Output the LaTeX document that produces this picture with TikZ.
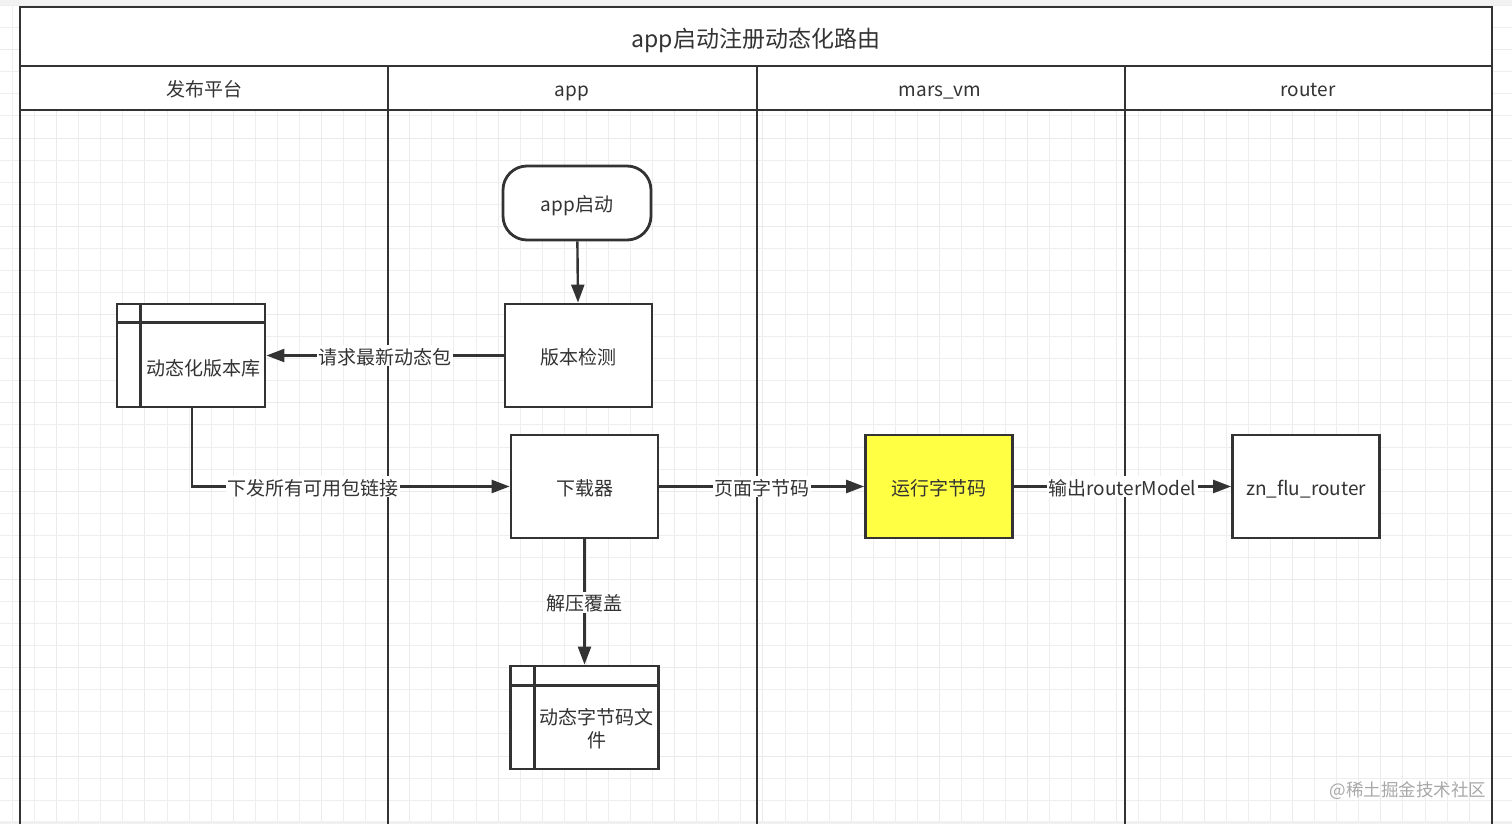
\documentclass[tikz,border=0pt]{standalone}
\usepackage{fontspec}
\setmainfont{Noto Sans CJK SC}
\usetikzlibrary{arrows.meta}
\definecolor{ln}{HTML}{333333}
\definecolor{txt}{HTML}{333333}
\definecolor{gminor}{HTML}{EEEEEE}
\definecolor{gmajor}{HTML}{EAEAEA}
\definecolor{topgray}{HTML}{F2F2F2}
\definecolor{hl}{HTML}{FFFF44}
\definecolor{wm}{HTML}{A8A8A8}
\begin{document}
\begin{tikzpicture}[x=1pt,y=-1pt,
  fnt/.style={font=\fontsize{19}{24}\selectfont, text=txt, text height=17.5pt, text depth=0.5pt},
  boxnode/.style={draw=ln, line width=2.8pt, minimum width=147pt, minimum height=103pt, fill=white, fnt},
  dbnode/.style={draw=ln, line width=2.8pt, minimum width=148pt, minimum height=103pt, fill=white},
  termnode/.style={draw=ln, line width=2.8pt, minimum width=148pt, minimum height=74pt, rounded corners=24pt, fill=white, fnt},
  lanehead/.style={fnt},
  lbl/.style={fnt, fill=white, inner sep=1.5pt},
  arr/.style={draw=ln, line width=2.4pt, -{Triangle[length=18pt,width=13pt]}},
  poolline/.style={draw=ln, line width=2.8pt},
  gridminor/.style={draw=gminor, line width=1pt},
  gridmajor/.style={draw=gmajor, line width=1pt}
]
\useasboundingbox (0,0) rectangle (1512,824);
\fill[white] (0,0) rectangle (1512,824);
\fill[topgray] (0,0) rectangle (1512,5);
\fill[topgray] (0,821) rectangle (1512,824);
% grid
\foreach \i in {-2,...,66}{
  \pgfmathsetmacro\xx{56.7+\i*22.07}
  \pgfmathtruncatemacro\mm{mod(\i+400,4)}
  \ifnum\mm=0
    \draw[gridmajor] (\xx,5) -- (\xx,821);
  \else
    \draw[gridminor] (\xx,5) -- (\xx,821);
  \fi
}
\foreach \j in {-34,...,3}{
  \pgfmathsetmacro\yy{756+\j*22.07}
  \pgfmathtruncatemacro\mm{mod(\j+400,4)}
  \ifnum\mm=0
    \draw[gridmajor] (0,\yy) -- (1512,\yy);
  \else
    \draw[gridminor] (0,\yy) -- (1512,\yy);
  \fi
}
% pool title and header
\fill[white] (20,7) rectangle (1492,110);
\draw[poolline] (20,824) -- (20,7) -- (1492,7) -- (1492,824);
\draw[poolline] (20,66) -- (1492,66);
\draw[poolline] (20,110) -- (1492,110);
\foreach \lx in {388,757,1125}{
  \draw[poolline] (\lx,66) -- (\lx,824);
}
\node[font=\fontsize{23}{28}\selectfont, text=txt, text height=21pt, text depth=0.5pt] (title) at (756,37) {app启动注册动态化路由};
\node[lanehead] (h1) at (204,88) {发布平台};
\node[lanehead] (h2) at (572,88) {app};
\node[lanehead] (h3) at (940,88) {mars\_vm};
\node[lanehead] (h4) at (1308,88) {router};

% nodes
\node[termnode] (start) at (577,203) {app启动};
\node[boxnode] (check) at (578.5,355.5) {版本检测};
\node[dbnode] (db1) at (191,355.5) {};
\draw[draw=ln, line width=2.8pt] ([xshift=25pt]db1.north west) -- ([xshift=25pt]db1.south west);
\draw[draw=ln, line width=2.8pt] ([yshift=-20pt]db1.north west) -- ([yshift=-20pt]db1.north east);
\node[fnt] (db1t) at (203.5,366.5) {动态化版本库};
\node[boxnode] (dl) at (584.5,486.5) {下载器};
\node[boxnode, fill=hl] (run) at (939,486.5) {运行字节码};
\node[boxnode] (zn) at (1306,486.5) {zn\_flu\_router};
\node[dbnode] (db2) at (584.5,717.5) {};
\draw[draw=ln, line width=2.8pt] ([xshift=25pt]db2.north west) -- ([xshift=25pt]db2.south west);
\draw[draw=ln, line width=2.8pt] ([yshift=-21pt]db2.north west) -- ([yshift=-21pt]db2.north east);
\node[fnt, align=center, text height=, text depth=, font=\fontsize{19}{23}\selectfont] (db2t) at (596.5,729) {动态字节码文\\件};

% connectors
\draw[arr] (start) -- (check);
\draw[arr] (check) -- (db1) node[lbl, pos=0.5] {请求最新动态包};
\draw[arr] ([xshift=1pt]db1.south) |- (dl.west) node[lbl, pos=0.69] {下发所有可用包链接};
\draw[arr] (dl) -- (run) node[lbl, pos=0.5] {页面字节码};
\draw[arr] (run) -- (zn) node[lbl, pos=0.5] {输出routerModel};
\draw[arr] (dl) -- (db2) node[lbl, pos=0.5] {解压覆盖};

% watermark
\node[font=\fontsize{17.5}{20}\selectfont, text=wm, anchor=east] (wmark) at (1490,791) {@稀土掘金技术社区};
\end{tikzpicture}
\end{document}
